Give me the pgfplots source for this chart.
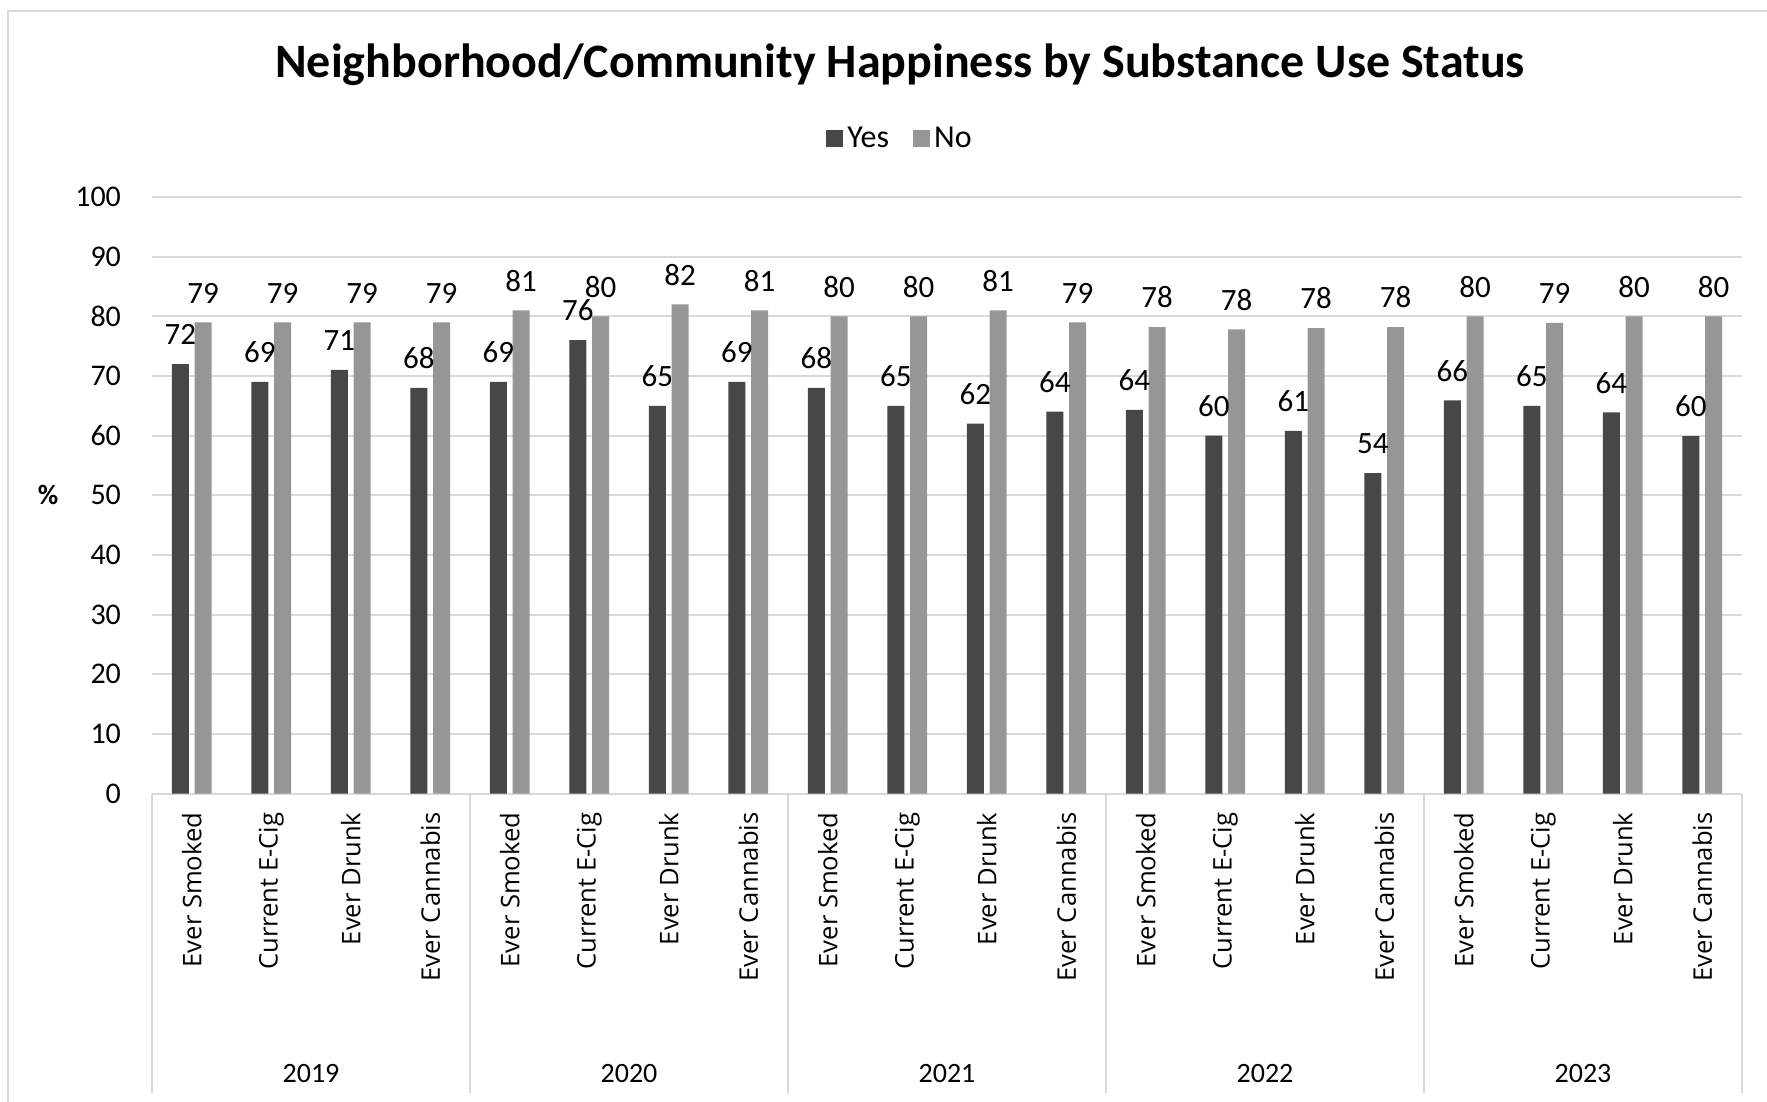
\documentclass[border=0pt]{standalone}
\usepackage{pgfplots}
\pgfplotsset{compat=1.18}
\usepackage{pgfplotstable}
\usepackage{fontspec}
\setmainfont{Carlito}
\newfontfamily\catfont{Open Sans}

\definecolor{yesgray}{HTML}{474747}
\definecolor{nogray}{HTML}{969696}
\definecolor{gridgray}{HTML}{D9D9D9}

% x: category index (4 per year, 2019-2023)
\pgfplotstableread{
x  yes   no
0  72    79
1  69    79
2  71    79
3  68    79
4  69    81
5  76    80
6  65    82
7  69    81
8  68    80
9  65    80
10 62    81
11 64    79
12 64.3  78.2
13 60.0  77.8
14 60.8  78.0
15 53.7  78.2
16 65.9  80
17 65.0  78.9
18 63.9  80
19 59.9  80
}\datatable

\begin{document}
\begin{tikzpicture}
    \useasboundingbox (-76pt,-154.25pt) rectangle (807.5pt,396.75pt);
    \draw[gridgray, line width=1pt] (-72pt,-154.25pt) -- (-72pt,391.25pt) -- (807.5pt,391.25pt);
    \begin{axis}[
        width=795pt,
        height=298.25pt,
        scale only axis,
        ybar,
        xmin=-0.5, xmax=19.5,
        ymin=0, ymax=100,
        ytick={0,10,...,100},
        xtick={0,...,19},
        xticklabels={Ever Smoked,Current E-Cig,Ever Drunk,Ever Cannabis,
                     Ever Smoked,Current E-Cig,Ever Drunk,Ever Cannabis,
                     Ever Smoked,Current E-Cig,Ever Drunk,Ever Cannabis,
                     Ever Smoked,Current E-Cig,Ever Drunk,Ever Cannabis,
                     Ever Smoked,Current E-Cig,Ever Drunk,Ever Cannabis},
        x tick label style={font=\catfont\fontsize{12.8}{15}\selectfont, yshift=-6pt, rotate=90, anchor=east},
        y tick label style={font=\fontsize{15}{18}\selectfont, xshift=-12pt},
        /pgf/number format/assume math mode=true,
        major tick length=0pt,
        ymajorgrids,
        grid style={gridgray, line width=1pt},
        axis line style={draw=none},
        clip=false,
        nodes near coords,
        nodes near coords style={font=\fontsize{15.5}{18}\selectfont, yshift=6pt,
            /pgf/number format/fixed, /pgf/number format/precision=0},
        title={Neighborhood/Community Happiness by Substance Use Status},
        title style={at={(0.4704,1.2020)}, anchor=center, font=\fontsize{24}{29}\selectfont\bfseries},
        ylabel={\%},
        every axis y label/.style={at={(rel axis cs:0,0.5)}, xshift=-52pt, anchor=center,
            font=\fontsize{14}{17}\selectfont\bfseries},
        legend style={at={(0.4711,1.0985)}, anchor=center, draw=none, legend columns=2,
            font=\fontsize{16}{19}\selectfont, inner sep=0pt,
            /tikz/every even column/.append style={column sep=10pt}},
        legend cell align=left,
    ]

    % Yes
    \addplot[fill=yesgray, draw=none, bar width=0.216, bar shift=-0.143,
        legend image code/.code={\fill[yesgray] (0pt,-4.25pt) rectangle (8.5pt,4.25pt);}]
        table[x=x, y=yes] {\datatable};

    % No
    \addplot[fill=nogray, draw=none, bar width=0.216, bar shift=0.143,
        legend image code/.code={\fill[nogray] (0pt,-4.25pt) rectangle (8.5pt,4.25pt);}]
        table[x=x, y=no] {\datatable};

    \legend{Yes, No}

    % year groups under the category labels
    \pgfplotsinvokeforeach{-0.5,3.5,7.5,11.5,15.5,19.5}{
        \draw[gridgray, line width=1pt] (axis cs:#1,0) -- ++(0pt,-149.75pt);
    }
    \node[font=\fontsize{14}{17}\selectfont, yshift=-140pt] at (axis cs:1.5,0) {2019};
    \node[font=\fontsize{14}{17}\selectfont, yshift=-140pt] at (axis cs:5.5,0) {2020};
    \node[font=\fontsize{14}{17}\selectfont, yshift=-140pt] at (axis cs:9.5,0) {2021};
    \node[font=\fontsize{14}{17}\selectfont, yshift=-140pt] at (axis cs:13.5,0) {2022};
    \node[font=\fontsize{14}{17}\selectfont, yshift=-140pt] at (axis cs:17.5,0) {2023};
    \end{axis}
\end{tikzpicture}
\end{document}
